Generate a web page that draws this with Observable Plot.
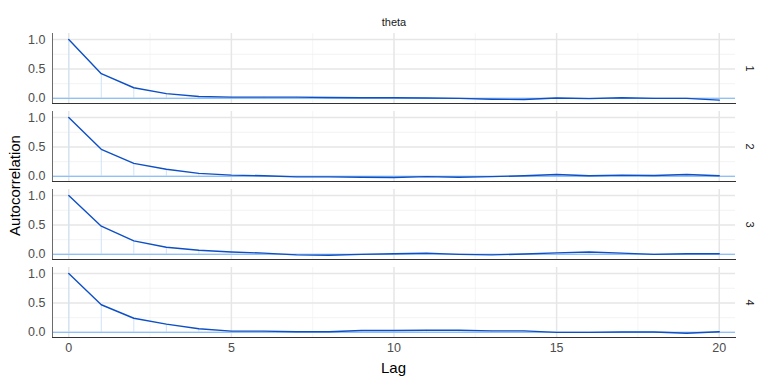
<!DOCTYPE html>
<html>
<head>
<meta charset="utf-8">
<script src="https://cdn.jsdelivr.net/npm/d3@7"></script>
<script src="https://cdn.jsdelivr.net/npm/@observablehq/plot@0.6"></script>
<style>
  html, body { margin: 0; padding: 0; background: #fff; }
  #chart { width: 768px; height: 384px; }
</style>
</head>
<body>
<div id="chart"></div>
<script>
const parameter = "theta";
const chains = ["1", "2", "3", "4"];
const lags = [0,1,2,3,4,5,6,7,8,9,10,11,12,13,14,15,16,17,18,19,20];
const acfChain1 = [1.0,0.42,0.18,0.08,0.03,0.02,0.02,0.02,0.015,0.01,0.01,0.005,0.0,-0.015,-0.02,0.005,-0.005,0.01,0.0,0.0,-0.03];
const acfChain2 = [1.0,0.46,0.22,0.12,0.05,0.02,0.01,-0.01,-0.01,-0.015,-0.02,-0.005,-0.015,-0.005,0.01,0.03,0.01,0.02,0.015,0.03,0.01];
const acfChain3 = [1.0,0.48,0.23,0.12,0.07,0.04,0.02,-0.01,-0.015,0.0,0.01,0.02,0.0,-0.01,0.005,0.025,0.04,0.02,0.0,0.01,0.01];
const acfChain4 = [1.0,0.47,0.24,0.14,0.06,0.02,0.02,0.01,0.01,0.03,0.03,0.035,0.035,0.025,0.025,0.0,0.0,0.005,0.005,-0.015,0.01];
const xMajor = [0,5,10,15,20];
const xMinor = [2.5,7.5,12.5,17.5];
const yMajor = [0,0.5,1];
const yMinor = [0.25,0.75];

const series = [acfChain1, acfChain2, acfChain3, acfChain4];
const rows = [];
chains.forEach((c, i) => lags.forEach((lag, j) => rows.push({chain: c, lag, ac: series[i][j]})));

const plot = Plot.plot({
  width: 768,
  height: 384,
  marginTop: 33,
  marginBottom: 46,
  marginLeft: 52,
  marginRight: 33,
  style: {fontFamily: "'Liberation Sans', Arial, sans-serif", fontSize: "12px", background: "#fff"},
  x: {domain: [-0.5, 20.5]},
  y: {domain: [-0.088, 1.104]},
  fy: {domain: chains, padding: 0.102, paddingOuter: 0},
  marks: [
    Plot.gridX(xMinor, {stroke: "#f2f2f2", strokeOpacity: 1, strokeWidth: 0.8}),
    Plot.gridY(yMinor, {stroke: "#f0f0f0", strokeOpacity: 1, strokeWidth: 0.8}),
    Plot.gridX(xMajor, {stroke: "#e6e6e6", strokeOpacity: 1, strokeWidth: 1.5}),
    Plot.gridY(yMajor, {stroke: "#e6e6e6", strokeOpacity: 1, strokeWidth: 1.5}),
    Plot.ruleX(rows, {x: "lag", y1: 0, y2: "ac", fy: "chain", stroke: "#cfe3fa", strokeWidth: 1}),
    Plot.ruleY([0], {stroke: "#8ec1f7", strokeWidth: 1.2}),
    Plot.line(rows, {x: "lag", y: "ac", fy: "chain", stroke: "#0d4fc6", strokeWidth: 1.4}),
    Plot.frame({anchor: "left", stroke: "#6b6b6b", strokeWidth: 1}),
    Plot.frame({anchor: "bottom", stroke: "#333", strokeWidth: 1}),
    Plot.axisY(yMajor, {tickSize: 0, tickPadding: 7, tickFormat: d3.format(".1f"), label: null, color: "#4d4d4d", fontSize: 12.5}),
    Plot.axisX(xMajor, {tickSize: 0, tickPadding: 6, label: null, color: "#4d4d4d", fontSize: 12.5}),
    Plot.axisFy({anchor: "right", tickSize: 0, tickPadding: 18, tickRotate: 90, label: null, color: "#1a1a1a", fontSize: 11}),
    Plot.text([{chain: "1"}], {fy: "chain", x: 10, frameAnchor: "top", dy: -15, text: () => parameter, fill: "#1a1a1a", fontSize: 11})
  ]
});

const svg = d3.select(plot);
svg.append("text")
  .attr("transform", "translate(20,185.5) rotate(-90)")
  .attr("text-anchor", "middle")
  .attr("font-size", 15)
  .attr("fill", "#000")
  .text("Autocorrelation");
svg.append("text")
  .attr("x", 393.5).attr("y", 373)
  .attr("text-anchor", "middle")
  .attr("font-size", 15)
  .attr("fill", "#000")
  .text("Lag");

document.getElementById("chart").appendChild(plot);
</script>
</body>
</html>
